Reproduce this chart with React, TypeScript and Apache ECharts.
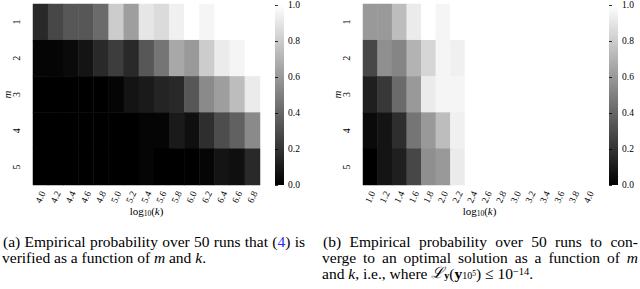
import React, { useEffect, useRef } from 'react';
import * as echarts from 'echarts';

// ---------- data ----------
const mLabels = ['1', '2', '3', '4', '5'];
const kLabelsA = ['4.0', '4.2', '4.4', '4.6', '4.8', '5.0', '5.2', '5.4', '5.6', '5.8', '6.0', '6.2', '6.4', '6.6', '6.8'];
const kLabelsB = ['1.0', '1.2', '1.4', '1.6', '1.8', '2.0', '2.2', '2.4', '2.6', '2.8', '3.0', '3.2', '3.4', '3.6', '3.8', '4.0'];

// (a) probability that (4) is verified; rows m = 1..5, columns log10(k)
const probA_m1 = [0.16, 0.28, 0.34, 0.34, 0.42, 0.80, 0.62, 0.90, 0.86, 0.94, 1.00, 0.96, 1.00, 1.00, 1.00];
const probA_m2 = [0.02, 0.02, 0.04, 0.08, 0.16, 0.24, 0.16, 0.34, 0.46, 0.66, 0.60, 0.80, 0.92, 0.96, 1.00];
const probA_m3 = [0.00, 0.00, 0.00, 0.00, 0.00, 0.02, 0.08, 0.10, 0.14, 0.16, 0.34, 0.54, 0.62, 0.74, 0.92];
const probA_m4 = [0.00, 0.00, 0.00, 0.00, 0.00, 0.00, 0.00, 0.02, 0.02, 0.10, 0.06, 0.18, 0.30, 0.38, 0.54];
const probA_m5 = [0.00, 0.00, 0.00, 0.00, 0.00, 0.00, 0.00, 0.02, 0.00, 0.00, 0.00, 0.02, 0.08, 0.06, 0.16];

// (b) probability of converging to an optimal solution
const probB_m1 = [0.60, 0.60, 0.74, 0.92, 1.00, 0.96, 1.00, 1.00, 1.00, 1.00, 1.00, 1.00, 1.00, 1.00, 1.00, 1.00];
const probB_m2 = [0.28, 0.56, 0.52, 0.70, 0.84, 0.96, 0.94, 1.00, 1.00, 1.00, 1.00, 1.00, 1.00, 1.00, 1.00, 1.00];
const probB_m3 = [0.12, 0.22, 0.42, 0.60, 0.92, 0.96, 0.96, 1.00, 1.00, 1.00, 1.00, 1.00, 1.00, 1.00, 1.00, 1.00];
const probB_m4 = [0.04, 0.08, 0.18, 0.46, 0.60, 0.74, 0.94, 1.00, 1.00, 1.00, 1.00, 1.00, 1.00, 1.00, 1.00, 1.00];
const probB_m5 = [0.00, 0.08, 0.12, 0.28, 0.56, 0.60, 0.92, 1.00, 1.00, 1.00, 1.00, 1.00, 1.00, 1.00, 1.00, 1.00];

const probA = [probA_m1, probA_m2, probA_m3, probA_m4, probA_m5];
const probB = [probB_m1, probB_m2, probB_m3, probB_m4, probB_m5];

// caption words
const captionA1 = [
  { t: '(a)' }, { t: 'Empirical' }, { t: 'probability' }, { t: 'over' }, { t: '50' },
  { t: 'runs' }, { t: 'that' }, { t: '({b|4})', plain: '(4)' }, { t: 'is' },
];
const captionA2 = 'verified as a function of {i|m} and {i|k}.';
const captionB1 = [
  { t: '(b)' }, { t: 'Empirical' }, { t: 'probability' }, { t: 'over' }, { t: '50' },
  { t: 'runs' }, { t: 'to' }, { t: 'con-' },
];
const captionB2 = [
  { t: 'verge' }, { t: 'to' }, { t: 'an' }, { t: 'optimal' }, { t: 'solution' }, { t: 'as' },
  { t: 'a' }, { t: 'function' }, { t: 'of' }, { t: 'm', italic: true },
];
const captionB3 = 'and {i|k}, i.e., where {L|ℒ}{subb|y}({bb|y}{sub|10}{ss|5}) ≤ 10{sup|−14}.';

// ---------- helpers ----------
const SERIF_NAME = 'Liberation Serif';
const SERIF = '"Liberation Serif", "Times New Roman", serif';
const CAP = 15.5;
const CAP_LH = 15;

const toCells = (rows: number[][]) => {
  const out: number[][] = [];
  rows.forEach((row, yi) => row.forEach((v, xi) => out.push([xi, yi, v])));
  return out;
};

let ctx: CanvasRenderingContext2D | null = null;
const measure = (text: string, italic: boolean) => {
  if (!ctx) ctx = document.createElement('canvas').getContext('2d');
  if (!ctx) return text.length * CAP * 0.45;
  ctx.font = `${italic ? 'italic ' : ''}${CAP}px "${SERIF_NAME}", serif`;
  return ctx.measureText(text).width;
};

const capRich = {
  b: { fill: '#2b2bff', fontFamily: SERIF, fontSize: CAP, lineHeight: CAP_LH },
};

const justified = (words: any[], x0: number, x1: number, y: number) => {
  const widths = words.map((w) => measure(w.plain ?? w.t, !!w.italic));
  const total = widths.reduce((a, b) => a + b, 0);
  const gap = (x1 - x0 - total) / (words.length - 1);
  let x = x0;
  return words.map((w, i) => {
    const el = {
      type: 'text',
      x,
      y,
      style: {
        text: w.t,
        fill: '#000',
        fontFamily: SERIF,
        fontSize: CAP,
        lineHeight: CAP_LH,
        fontStyle: w.italic ? 'italic' : 'normal',
        verticalAlign: 'middle',
        align: 'left',
        rich: capRich,
      },
    };
    x += widths[i] + gap;
    return el;
  });
};

const gradient = new echarts.graphic.LinearGradient(0, 0, 0, 1, [
  { offset: 0, color: '#ffffff' },
  { offset: 1, color: '#000000' },
]);

const tickFont = { fontFamily: SERIF, fontSize: 10, color: '#000' };
const nameRich = {
  s: { fontFamily: SERIF, fontSize: 7.5, verticalAlign: 'bottom', lineHeight: 5, color: '#000' },
  i: { fontFamily: SERIF, fontSize: 11, fontStyle: 'italic', lineHeight: 13, color: '#000' },
};

const heatXAxis = (gridIndex: number, data: string[]) => ({
  type: 'category',
  gridIndex,
  data,
  axisLine: { show: false },
  axisTick: { show: false },
  splitLine: { show: false },
  axisLabel: { ...tickFont, fontSize: 9.5, rotate: 65, interval: 0, align: 'center', verticalAlign: 'middle', margin: 12 },
  name: 'log{s|10}({i|k})',
  nameLocation: 'middle',
  nameGap: 19,
  nameMoveOverlap: false,
  nameTextStyle: { fontFamily: SERIF, fontSize: 11, lineHeight: 13, color: '#000', rich: nameRich },
});

const heatYAxis = (gridIndex: number) => ({
  type: 'category',
  gridIndex,
  data: mLabels,
  inverse: true,
  axisLine: { show: false },
  axisTick: { show: false },
  splitLine: { show: false },
  axisLabel: { ...tickFont, rotate: 90, margin: 12 },
  name: 'm',
  nameLocation: 'middle',
  nameGap: 21,
  nameRotate: 90,
  nameMoveOverlap: false,
  nameTextStyle: { fontFamily: SERIF, fontSize: 11, fontStyle: 'italic', color: '#000' },
});

const cbXAxis = (gridIndex: number) => ({ type: 'value', gridIndex, min: 0, max: 1, show: false });
const cbYAxis = (gridIndex: number) => ({
  type: 'value',
  gridIndex,
  min: 0,
  max: 1,
  interval: 0.2,
  position: 'right',
  axisLine: { show: false },
  axisTick: { show: true, length: 3, lineStyle: { color: '#000', width: 0.8 } },
  splitLine: { show: false },
  axisLabel: { ...tickFont, fontSize: 9.5, margin: 4, formatter: (v: number) => v.toFixed(1) },
});

export default function App() {
  const ref = useRef<HTMLDivElement>(null);
  useEffect(() => {
    if (!ref.current) return;
    const chart = echarts.init(ref.current, null, { renderer: 'svg' });
    const option = {
      animation: false,
      backgroundColor: '#ffffff',
      grid: [
        { left: 28, top: 4, width: 232, height: 181 },
        { left: 363, top: 4, width: 233, height: 181 },
        { left: 275, top: 4, width: 9, height: 181, show: true, backgroundColor: gradient, borderWidth: 0 },
        { left: 609, top: 4, width: 9, height: 181, show: true, backgroundColor: gradient, borderWidth: 0 },
      ],
      xAxis: [heatXAxis(0, kLabelsA), heatXAxis(1, kLabelsB), cbXAxis(2), cbXAxis(3)],
      yAxis: [heatYAxis(0), heatYAxis(1), cbYAxis(2), cbYAxis(3)],
      visualMap: [
        { type: 'continuous', show: false, min: 0, max: 1, seriesIndex: [0, 1], inRange: { color: ['#000000', '#ffffff'] } },
      ],
      series: [
        { type: 'heatmap', xAxisIndex: 0, yAxisIndex: 0, data: toCells(probA), itemStyle: { borderWidth: 0 }, emphasis: { disabled: true } },
        { type: 'heatmap', xAxisIndex: 1, yAxisIndex: 1, data: toCells(probB), itemStyle: { borderWidth: 0 }, emphasis: { disabled: true } },
      ],
      graphic: [
        ...justified(captionA1, 3, 305, 241.7),
        {
          type: 'text',
          x: 2,
          y: 257.4,
          style: {
            text: captionA2,
            fill: '#000',
            fontFamily: SERIF,
            fontSize: CAP,
            lineHeight: CAP_LH,
            verticalAlign: 'middle',
            rich: { i: { fontFamily: SERIF, fontSize: CAP, fontStyle: 'italic', lineHeight: CAP_LH } },
          },
        },
        ...justified(captionB1, 323, 638, 241.7),
        ...justified(captionB2, 322, 638, 257.4),
        {
          type: 'text',
          x: 322,
          y: 273.3,
          style: {
            text: captionB3,
            fill: '#000',
            fontFamily: SERIF,
            fontSize: CAP,
            lineHeight: CAP_LH,
            verticalAlign: 'middle',
            rich: {
              i: { fontFamily: SERIF, fontSize: CAP, fontStyle: 'italic', lineHeight: CAP_LH },
              L: { fontFamily: '"DejaVu Serif", serif', fontSize: CAP, fontStyle: 'italic', lineHeight: CAP_LH },
              bb: { fontFamily: SERIF, fontSize: CAP, fontWeight: 'bold', lineHeight: CAP_LH },
              subb: { fontFamily: SERIF, fontSize: 10, fontWeight: 'bold', verticalAlign: 'bottom', lineHeight: 3 },
              sub: { fontFamily: SERIF, fontSize: 10, verticalAlign: 'bottom', lineHeight: 3 },
              ss: { fontFamily: SERIF, fontSize: 7.5, verticalAlign: 'middle', lineHeight: 3 },
              sup: { fontFamily: SERIF, fontSize: 10.5, verticalAlign: 'top', lineHeight: 3 },
            },
          },
        },
      ],
    };
    chart.setOption(option as any);
    return () => chart.dispose();
  }, []);
  return (
    <div
      ref={ref}
      style={{ position: 'absolute', left: 0, top: 0, width: 640, height: 289, background: '#fff' }}
    />
  );
}
